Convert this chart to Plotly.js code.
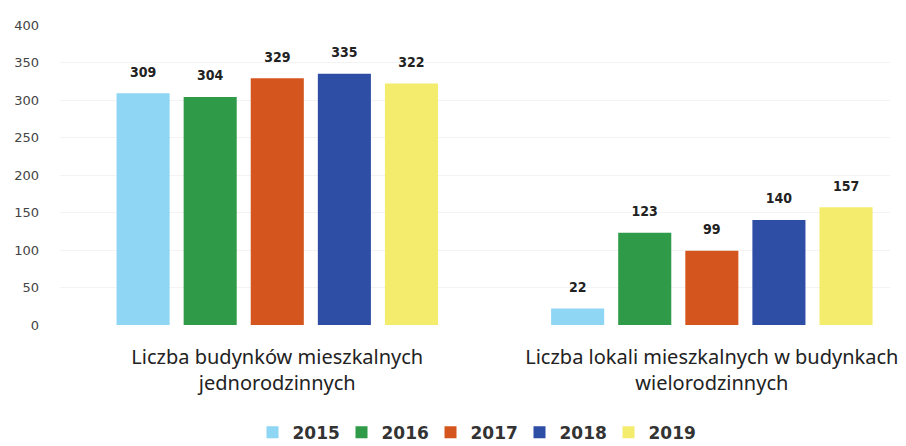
<!DOCTYPE html>
<html>
<head>
<meta charset="utf-8">
<script src="https://cdn.plot.ly/plotly-3.0.1.min.js"></script>
<style>html,body{margin:0;padding:0;background:#fff;}#chart{width:906px;height:446px;}</style>
</head>
<body>
<div id="chart"></div>
<script>
const categories = [
  "Liczba budynków mieszkalnych<br>jednorodzinnych",
  "Liczba lokali mieszkalnych w budynkach<br>wielorodzinnych"
];
const years = ["2015", "2016", "2017", "2018", "2019"];
const v2015 = [309, 22];
const v2016 = [304, 123];
const v2017 = [329, 99];
const v2018 = [335, 140];
const v2019 = [322, 157];
const yTicks = [0, 50, 100, 150, 200, 250, 300, 350, 400];

const series = [v2015, v2016, v2017, v2018, v2019];
const colors = ["#8ed6f3", "#2f9a47", "#d4561e", "#2e4ea5", "#f4ec6c"];

const traces = series.map((vals, i) => ({
  type: "bar",
  name: years[i],
  x: categories,
  y: vals,
  marker: {color: colors[i]},
  text: vals.map(v => String(v)),
  textposition: "outside",
  cliponaxis: false,
  textfont: {family: "DejaVu Sans Condensed", size: 9, color: "#222"},
  texttemplate: "<span style='font-size:14px;font-weight:bold'>%{text}</span><br> ",
  hoverinfo: "none"
}));

const layout = {
  width: 906, height: 446,
  margin: {l: 60, r: 16, t: 25, b: 121},
  paper_bgcolor: "#fff", plot_bgcolor: "#fff",
  barmode: "group",
  bargap: 0.228,
  bargroupgap: 0.209,
  showlegend: true,
  legend: {
    orientation: "h", xref: "paper", yref: "container",
    x: 0.5, xanchor: "center", y: 0.03, yanchor: "middle",
    font: {family: "DejaVu Sans", size: 17, color: "#333", weight: "bold"},
    itemwidth: 30, traceorder: "normal",
    entrywidth: 44, entrywidthmode: "pixels"
  },
  xaxis: {
    type: "category",
    range: [-0.5, 1.41],
    showgrid: false, zeroline: false, showline: false,
    ticks: "", ticklabelstandoff: 18,
    tickfont: {family: "Noto Sans", size: 20, color: "#222"}
  },
  yaxis: {
    range: [0, 400],
    tickvals: yTicks,
    ticktext: yTicks.map(String),
    showgrid: true, gridcolor: "#f3f3f3", zeroline: false, showline: false,
    ticklabelstandoff: 20,
    tickfont: {family: "DejaVu Sans", size: 13, color: "#444"}
  }
};

Plotly.newPlot("chart", traces, layout, {displayModeBar: false, staticPlot: true});
</script>
</body>
</html>
